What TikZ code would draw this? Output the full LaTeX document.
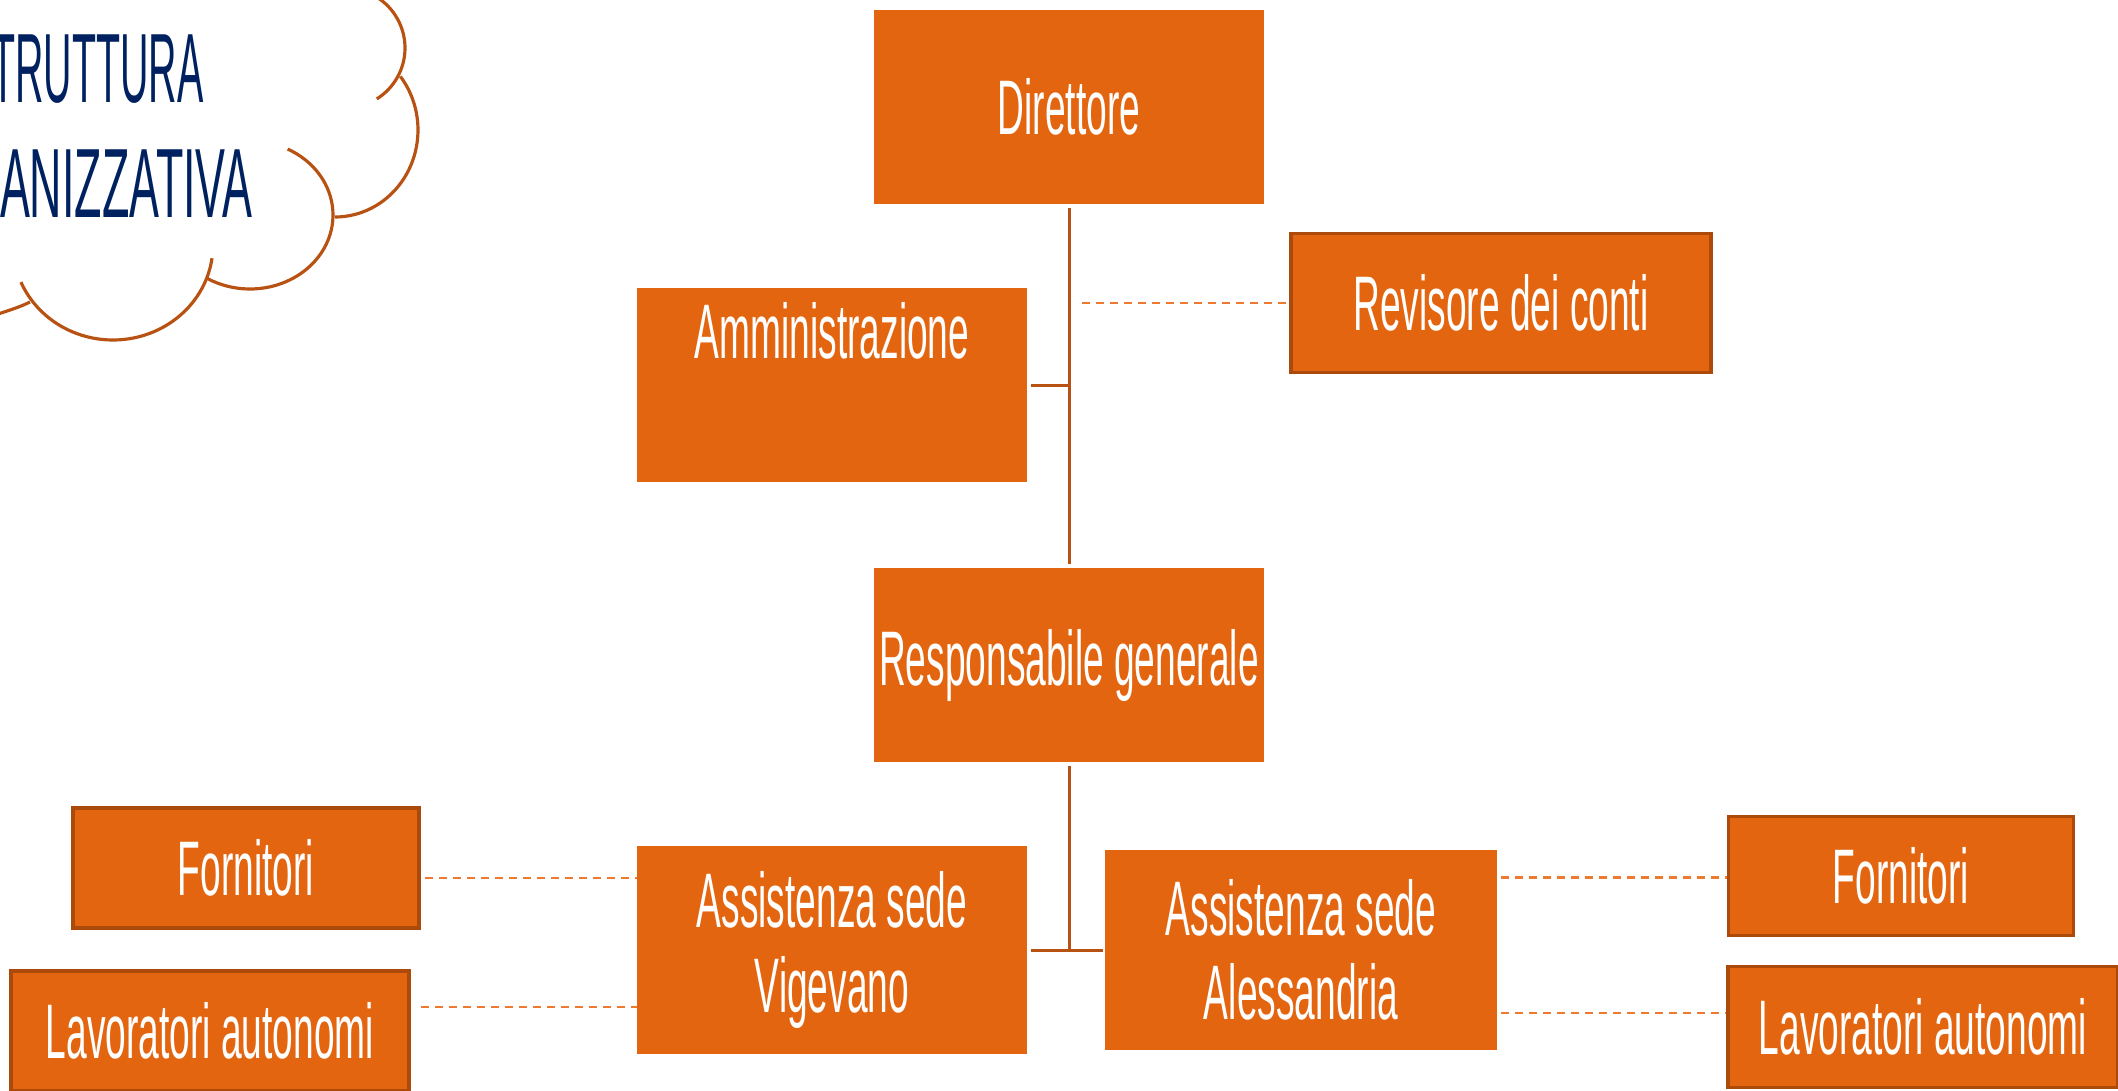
\documentclass[tikz,border=0pt]{standalone}
\usepackage{fontspec}
\newfontfamily\boxfont[FakeStretch=0.48]{Liberation Sans}
\newfontfamily\titlefont[FakeStretch=0.455]{Liberation Sans}
\newfontfamily\titlefontnarrow[FakeStretch=0.40]{Liberation Sans}
\usetikzlibrary{positioning}
\definecolor{unitfill}{RGB}{228,101,16}
\definecolor{unitedge}{RGB}{172,74,12}
\definecolor{treeline}{RGB}{184,82,18}
\definecolor{linkdash}{RGB}{236,122,48}
\definecolor{titleblue}{RGB}{0,33,96}

\begin{document}
\begin{tikzpicture}[x=0.01cm,y=-0.01cm,font=\boxfont\fontsize{22}{24}\selectfont,
    unit/.style={fill=unitfill,draw=unitfill,text=white,align=center,inner sep=0pt},
    side/.style={unit,draw=unitedge,line width=1pt},
    tree/.style={draw=treeline,line width=0.85pt},
    link/.style={draw=linkdash,line width=0.6pt,dash pattern=on 0.08cm off 0.06cm},
    cloud/.style={draw=treeline,line width=0.9pt},
    title/.style={anchor=base east,inner sep=0pt,text=titleblue,
      font=\titlefont\fontsize{28}{30}\selectfont}]
\useasboundingbox (0,0) rectangle (2118,1090);
\clip (0,0) rectangle (2118,1090);
% cloud with the title
\draw[cloud] plot[domain=-60:58,samples=40] ({345+60*cos(\x)},{48+60*sin(\x)});
\draw[cloud] plot[domain=-38:90,samples=40] ({335+83*cos(\x)},{130+87*sin(\x)});
\draw[cloud] plot[domain=-63:121,samples=50] ({250+83*cos(\x)},{215+74*sin(\x)});
\draw[cloud] plot[domain=8:157,samples=50] ({113+100*cos(\x)},{245+95*sin(\x)});
\draw[cloud] (30,302) .. controls (20,307) and (10,310) .. (-5,315);
\node[title,font=\titlefontnarrow\fontsize{28}{30}\selectfont] (title1) at (204,102) {TRUTTURA};
\node[title] (title2) at (253,217) {ANIZZATIVA};
% boxes
\node[unit,minimum width=3.88cm,minimum height=1.92cm] (dir) at (1069,107) {Direttore};
\node[unit,minimum width=3.89cm,minimum height=1.93cm] (amm) at (832,385) {Amministrazione\\\strut};
\node[side,minimum width=4.2cm,minimum height=1.39cm] (rev) at (1501,303) {Revisore dei conti};
\node[unit,minimum width=3.88cm,minimum height=1.93cm] (resp) at (1069,665) {Responsabile generale};
\node[unit,minimum width=3.89cm,minimum height=2.07cm] (vig) at (832,950) {Assistenza sede\\Vigevano};
\node[unit,minimum width=3.91cm,minimum height=1.99cm] (ales) at (1301,950) {Assistenza sede\\Alessandria};
\node[side,minimum width=3.46cm,minimum height=1.2cm] (fornL) at (246,868) {Fornitori};
\node[side,minimum width=3.98cm,minimum height=1.2cm] (lavL) at (210,1031) {Lavoratori autonomi};
\node[side,minimum width=3.45cm,minimum height=1.19cm] (fornR) at (1901,876) {Fornitori};
\node[side,minimum width=3.9cm,minimum height=1.21cm] (lavR) at (1923,1027) {Lavoratori autonomi};
% tree lines
\draw[tree,shorten <=0.04cm,shorten >=0.04cm] (dir) -- (resp);
\draw[tree,shorten <=0.04cm] (amm.east) -- (amm.east -| dir.south);
\draw[tree,shorten <=0.04cm] (resp.south) -- (resp.south |- vig.east);
\draw[tree,shorten <=0.04cm,shorten >=0.02cm] (vig.east) -- (ales.west);
% dashed links
\draw[link,shorten <=0.13cm] (rev.west -| dir.south) -- (rev.west);
\coordinate (fornLend) at ([yshift=-0.1cm]fornL.east);
\coordinate (lavLend) at ([yshift=0.24cm]lavL.east);
\coordinate (fornRend) at ([yshift=-0.015cm]fornR.west);
\coordinate (lavRend) at ([yshift=0.14cm]lavR.west);
\draw[link,shorten <=0.04cm] (fornLend) -- (fornLend -| vig.west);
\draw[link,shorten <=0.1cm] (lavLend) -- (lavLend -| vig.west);
\draw[link,shorten <=0.04cm] (fornRend -| ales.east) -- (fornRend);
\draw[link,shorten <=0.04cm] (lavRend -| ales.east) -- (lavRend);
\end{tikzpicture}
\end{document}
